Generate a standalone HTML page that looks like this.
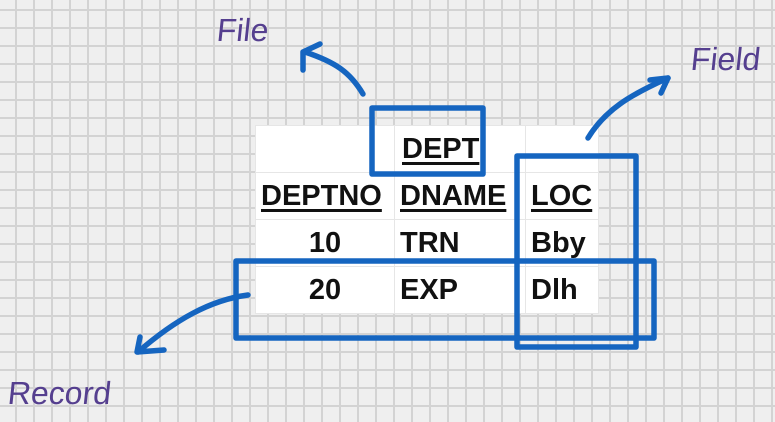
<!DOCTYPE html>
<html><head><meta charset="utf-8"><style>
html,body{margin:0;padding:0}
body{width:775px;height:422px;overflow:hidden;position:relative;background-color:#efefef;
background-image:linear-gradient(to right,#d3d3d3 2px,transparent 2px),linear-gradient(to bottom,#d3d3d3 2px,transparent 2px);
background-size:18px 18px;background-position:15px 9px;font-family:"Liberation Sans",sans-serif}
table{position:absolute;left:255px;top:125px;border-collapse:collapse;background:#fff;table-layout:fixed}
td{border:1px solid #e6e6e6;height:46px;padding:0;font-weight:bold;font-size:29px;color:#111;vertical-align:middle;white-space:nowrap;overflow:hidden}
td u{text-decoration-thickness:3px;text-underline-offset:4px}
.h{font-family:"Liberation Sans",sans-serif;color:#553f8f;position:absolute;font-size:32px;transform:skewX(-6deg)}
</style></head><body>
<table>
<tr><td style="width:138px"></td><td style="width:131px;padding-left:7px;box-sizing:border-box"><u>DEPT</u></td><td style="width:72px"></td></tr>
<tr><td style="padding-left:5px"><u>DEPTNO</u></td><td style="padding-left:5px"><u>DNAME</u></td><td style="padding-left:5px"><u>LOC</u></td></tr>
<tr><td style="text-align:center">10</td><td style="padding-left:5px">TRN</td><td style="padding-left:5px">Bby</td></tr>
<tr><td style="text-align:center">20</td><td style="padding-left:5px">EXP</td><td style="padding-left:5px">Dlh</td></tr>
</table>
<svg width="775" height="422" style="position:absolute;left:0;top:0" fill="none" stroke="#1565c0" stroke-width="5.5" stroke-linecap="round" stroke-linejoin="round">
<rect x="372" y="108" width="111" height="66"/>
<rect x="517" y="156" width="119" height="191"/>
<rect x="236" y="261" width="418" height="77"/>
<path d="M363 94 C350 72 335 62 305 52"/>
<path d="M303 70 L303 52 L320 44"/>
<path d="M588 138 C605 110 630 95 668 78"/>
<path d="M650 80 L668 78 L661 93"/>
<path d="M248 295 C210 300 175 320 138 352"/>
<path d="M140 337 L137 352 L164 350"/>
</svg>
<div class="h" style="left:217px;top:12px">File</div>
<div class="h" style="left:691px;top:41px">Field</div>
<div class="h" style="left:8px;top:375px">Record</div>
</body></html>
